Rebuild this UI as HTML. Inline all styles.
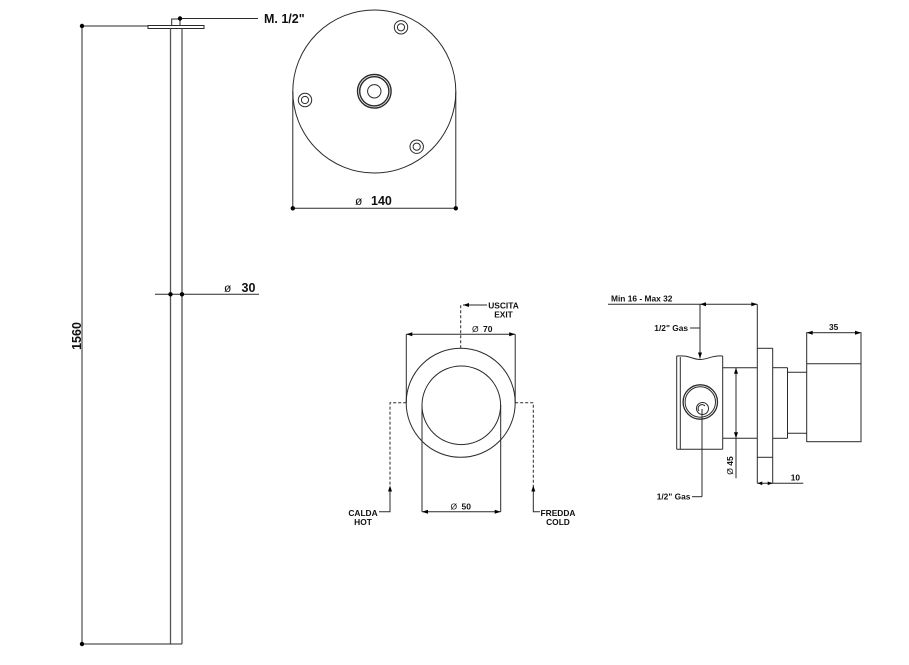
<!DOCTYPE html>
<html>
<head>
<meta charset="utf-8">
<style>
html,body{margin:0;padding:0;background:#fff;}
svg{display:block;}
text{font-family:"Liberation Sans",Arial,sans-serif;fill:#111;}
.b{font-weight:bold;}
</style>
</head>
<body>
<svg width="909" height="665" viewBox="0 0 909 665" xmlns="http://www.w3.org/2000/svg">
<g fill="none" stroke="#2a2a2a" stroke-width="1">
  <!-- LEFT VIEW: pipe -->
  <line x1="82" y1="26" x2="82" y2="644"/>
  <line x1="82" y1="26" x2="148" y2="26"/>
  <rect x="148" y="25.5" width="56" height="3"/>
  <line x1="170.5" y1="28.5" x2="170.5" y2="644" stroke="#555" stroke-width="1.3"/>
  <line x1="182" y1="28.5" x2="182" y2="644" stroke="#555" stroke-width="1.3"/>
  <line x1="82" y1="644" x2="182" y2="644"/>
  <polyline points="171.7,25.5 171.7,19 180,19 180,25.5"/>
  <line x1="180" y1="18.5" x2="258" y2="18.5"/>
  <line x1="155" y1="294.3" x2="259" y2="294.3"/>

  <!-- TOP VIEW -->
  <circle cx="374.3" cy="91.5" r="81.5"/>
  <circle cx="374.3" cy="91.3" r="16.8" stroke-width="1.4"/>
  <circle cx="374.3" cy="91.3" r="14.6" stroke-width="1.4"/>
  <circle cx="374.3" cy="91.3" r="6.7"/>
  <circle cx="401" cy="27.3" r="6.7"/>
  <circle cx="401" cy="27.3" r="3.6"/>
  <circle cx="305" cy="100" r="6.7"/>
  <circle cx="305" cy="100" r="3.6"/>
  <circle cx="416.7" cy="146.7" r="6.7"/>
  <circle cx="416.7" cy="146.7" r="3.6"/>
  <line x1="292.8" y1="91.5" x2="292.8" y2="208.3"/>
  <line x1="455.8" y1="91.5" x2="455.8" y2="208.3"/>
  <line x1="292.8" y1="208.3" x2="455.8" y2="208.3"/>

  <!-- FRONT VIEW -->
  <circle cx="460.7" cy="402.8" r="54.5"/>
  <circle cx="461.3" cy="405.3" r="39.3"/>
  <line x1="406.3" y1="334.3" x2="406.3" y2="402.8"/>
  <line x1="515.2" y1="334.3" x2="515.2" y2="402.8"/>
  <line x1="406.3" y1="334.3" x2="515.2" y2="334.3"/>
  <line x1="422" y1="405" x2="422" y2="511.7"/>
  <line x1="500.7" y1="405" x2="500.7" y2="511.7"/>
  <line x1="422" y1="511.7" x2="500.7" y2="511.7"/>
  <g stroke-dasharray="3,2">
    <line x1="460.7" y1="348.3" x2="460.7" y2="305"/>
    <polyline points="406.2,402.8 390,402.8 390,488"/>
    <polyline points="515.2,402.8 533.3,402.8 533.3,488"/>
  </g>
  <line x1="463" y1="305" x2="487" y2="305"/>
  <polyline points="390,488 390,511.7 379,511.7"/>
  <polyline points="533.3,488 533.3,511.7 540,511.7"/>

  <!-- SIDE VIEW -->
  <line x1="608" y1="304.3" x2="757.3" y2="304.3"/>
  <line x1="700" y1="304.3" x2="700" y2="358.5"/>
  <line x1="690" y1="328" x2="700" y2="328"/>
  <line x1="757.3" y1="304.3" x2="757.3" y2="483.3"/>
  <line x1="772.7" y1="348.3" x2="772.7" y2="483.3"/>
  <line x1="757.3" y1="348.3" x2="772.7" y2="348.3"/>
  <line x1="757.3" y1="457.3" x2="772.7" y2="457.3"/>
  <line x1="722.7" y1="367.7" x2="757.3" y2="367.7"/>
  <line x1="722.7" y1="438.3" x2="757.3" y2="438.3"/>
  <line x1="772.7" y1="367.7" x2="787.5" y2="367.7"/>
  <line x1="772.7" y1="438.3" x2="787.5" y2="438.3"/>
  <line x1="787.5" y1="367.7" x2="787.5" y2="438.3"/>
  <line x1="787.5" y1="372.3" x2="806.7" y2="372.3"/>
  <line x1="787.5" y1="433.3" x2="806.7" y2="433.3"/>
  <rect x="806.7" y="332.7" width="54.3" height="109"/>
  <line x1="806.7" y1="363.7" x2="861" y2="363.7"/>
  <!-- body -->
  <path d="M676.7,356 C690,355 692,359.5 700,359.5 C708,359.5 712,355 722.7,356"/>
  <line x1="676.7" y1="356" x2="676.7" y2="449.3"/>
  <line x1="680.3" y1="357" x2="680.3" y2="449.3"/>
  <line x1="722.7" y1="356" x2="722.7" y2="449.3"/>
  <line x1="676.7" y1="449.3" x2="722.7" y2="449.3"/>
  <circle cx="700.3" cy="402" r="17.2" stroke-width="1.3"/>
  <circle cx="700.3" cy="402" r="15.2"/>
  <circle cx="702.5" cy="408.5" r="6"/>
  <path d="M699,411 A3.5,3.5 0 0 1 705,406"/>
  <line x1="702" y1="409" x2="702" y2="496.7"/>
  <line x1="692" y1="496.7" x2="702" y2="496.7"/>
  <!-- dims -->
  <line x1="736" y1="367.7" x2="736" y2="478.3"/>
  <line x1="757.3" y1="483.3" x2="803.3" y2="483.3"/>
</g>

<!-- dots -->
<g fill="#000">
  <circle cx="82" cy="26" r="2.2"/>
  <circle cx="82" cy="644" r="2.2"/>
  <circle cx="180" cy="18.5" r="2.2"/>
  <circle cx="170.5" cy="294.3" r="2.2"/>
  <circle cx="182" cy="294.3" r="2.2"/>
  <circle cx="292.8" cy="208.3" r="2.2"/>
  <circle cx="455.8" cy="208.3" r="2.2"/>
  <!-- arrowheads -->
  <polygon points="406.3,334.3 412.3,332.3 412.3,336.3"/>
  <polygon points="515.2,334.3 509.2,332.3 509.2,336.3"/>
  <polygon points="422,511.7 428,509.7 428,513.7"/>
  <polygon points="500.7,511.7 494.7,509.7 494.7,513.7"/>
  <polygon points="463,305 469,303 469,307"/>
  <polygon points="390,485.5 388,491.5 392,491.5"/>
  <polygon points="533.3,485.5 531.3,491.5 535.3,491.5"/>
  <polygon points="700,304.3 706,302.3 706,306.3"/>
  <polygon points="757.3,304.3 751.3,302.3 751.3,306.3"/>
  <polygon points="700,358.5 698,352.5 702,352.5"/>
  <polygon points="736,367.7 734,373.7 738,373.7"/>
  <polygon points="736,438.3 734,432.3 738,432.3"/>
  <polygon points="806.7,332.7 812.7,330.7 812.7,334.7"/>
  <polygon points="861,332.7 855,330.7 855,334.7"/>
  <polygon points="757.3,483.3 762.3,481.5 762.3,485.1"/>
  <polygon points="772.7,483.3 767.7,481.5 767.7,485.1"/>
</g>

<!-- text -->
<text x="264" y="23" class="b" font-size="12.5">M. 1/2"</text>
<text x="224" y="292" font-size="12">ø</text>
<text x="241.5" y="292" class="b" font-size="12.5">30</text>
<text transform="translate(81,336) rotate(-90)" text-anchor="middle" class="b" font-size="12.5">1560</text>
<text x="355" y="205" font-size="12">ø</text>
<text x="371" y="205" class="b" font-size="12.5">140</text>

<text x="472" y="332" font-size="8.5">Ø</text>
<text x="483" y="332" class="b" font-size="8.5">70</text>
<text x="503.5" y="308.5" text-anchor="middle" class="b" font-size="8.4">USCITA</text>
<text x="503.5" y="317.5" text-anchor="middle" class="b" font-size="8.4">EXIT</text>
<text x="363" y="516" text-anchor="middle" class="b" font-size="8.4">CALDA</text>
<text x="363" y="525" text-anchor="middle" class="b" font-size="8.4">HOT</text>
<text x="558" y="516" text-anchor="middle" class="b" font-size="8.4">FREDDA</text>
<text x="558" y="525" text-anchor="middle" class="b" font-size="8.4">COLD</text>
<text x="450.5" y="509.5" font-size="8.5">Ø</text>
<text x="461.5" y="509.5" class="b" font-size="8.5">50</text>

<text x="611" y="301.5" class="b" font-size="8.4">Min 16 - Max 32</text>
<text x="654.3" y="331" class="b" font-size="8.4">1/2" Gas</text>
<text x="829" y="330" class="b" font-size="8.4">35</text>
<text x="790.7" y="480.5" class="b" font-size="8.4">10</text>
<text transform="translate(733,465.5) rotate(-90)" text-anchor="middle" font-size="8.5"><tspan>Ø</tspan><tspan class="b"> 45</tspan></text>
<text x="656.7" y="499.5" class="b" font-size="8.4">1/2" Gas</text>
</svg>
</body>
</html>
